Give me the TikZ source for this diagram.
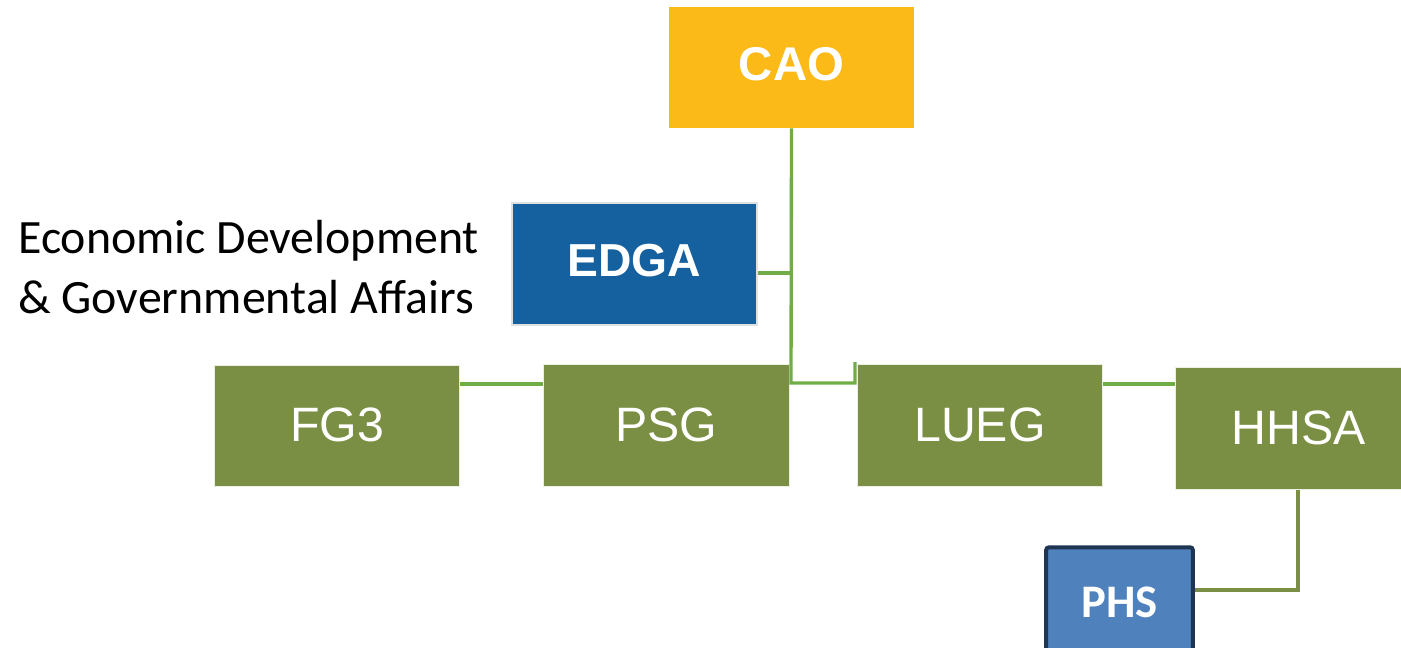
\documentclass[tikz,border=0pt]{standalone}
\usepackage{fontspec}
\setmainfont{Liberation Sans}
\newfontfamily\calib{Carlito}
\definecolor{caogold}{RGB}{251,186,24}
\definecolor{edgablue}{RGB}{21,96,158}
\definecolor{olive}{RGB}{122,143,67}
\definecolor{phsblue}{RGB}{79,129,189}
\definecolor{phsedge}{RGB}{31,53,82}
\definecolor{linkgreen}{RGB}{112,173,71}
\begin{document}
\begin{tikzpicture}[x=0.75pt,y=-0.75pt,
  box/.style={rectangle,inner sep=0pt,text=white,minimum width=184pt,minimum height=91pt},
  goldbox/.style={box,fill=caogold,font=\fontsize{35.5}{40}\selectfont\bfseries,text depth=5pt},
  bluebox/.style={box,fill=edgablue,draw=black!12,line width=1.5pt,font=\fontsize{34.7}{40}\selectfont\bfseries,text depth=5pt},
  greenbox/.style={box,fill=olive,draw=white!85!olive,line width=0.8pt,font=\fontsize{36.2}{40}\selectfont,text depth=2pt},
  phsbox/.style={rectangle,inner sep=0pt,text=white,fill=phsblue,draw=phsedge,line width=3pt,rounded corners=2pt,minimum width=110pt,minimum height=82pt,font=\calib\fontsize{35}{40}\selectfont\bfseries},
  link/.style={draw=linkgreen,line width=2.5pt},
  olink/.style={draw=olive,line width=2.5pt}]
\useasboundingbox (0,0) rectangle (1401,647);
\fill[white] (0,0) rectangle (1401,647);
\coordinate (j1) at (791,383);
\coordinate (j2) at (855,383);
\coordinate (j3) at (855,362);
\coordinate (e1) at (791,273);
\coordinate (h1) at (1298,590);

\node[goldbox] (cao) at (791.5,67.5) {CAO};
\node[bluebox] (edga) at (634.5,264) {EDGA};
\node[greenbox] (fg3) at (337,426) {FG3};
\node[greenbox] (psg) at (666.5,425.5) {PSG};
\node[greenbox] (lueg) at (980,425.5) {LUEG};
\node[greenbox] (hhsa) at (1298.5,428.5) {HHSA};
\node[phsbox] (phs) at (1119.5,602) {PHS};

\draw[link] (cao.south) -- (j1) -- (j2) -- (j3);
\draw[link] (edga.east |- e1) -- (e1);
\draw[link] (fg3.east |- 0,384) -- (psg.west |- 0,384);
\draw[link] (lueg.east |- 0,384) -- (hhsa.west |- 0,384);
\draw[olink] (hhsa.south -| h1) -- (h1) -- (phs.east |- h1);

\node[anchor=base west,align=left,inner sep=0pt,font=\calib\fontsize{35.9}{45}\selectfont] (lbl) at (18,313) {Economic Development\\\& Governmental Affairs};
\end{tikzpicture}
\end{document}
